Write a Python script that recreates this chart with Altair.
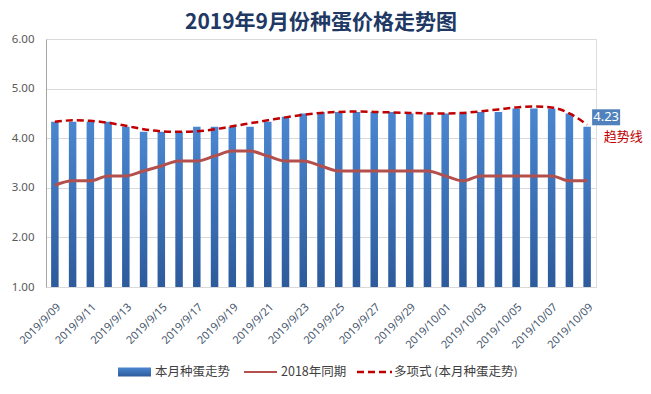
import altair as alt
import pandas as pd

dates = (["2019/9/%02d" % d for d in range(9, 31)] +
         ["2019/10/%02d" % d for d in range(1, 10)])
price_2019 = [4.33, 4.33, 4.33, 4.33, 4.23, 4.13, 4.13, 4.13, 4.23, 4.23,
              4.23, 4.23, 4.33, 4.43, 4.50, 4.53, 4.53, 4.53, 4.53, 4.53,
              4.50, 4.50, 4.50, 4.50, 4.53, 4.53, 4.60, 4.60, 4.60, 4.50, 4.23]
price_2018 = [3.05, 3.14, 3.14, 3.24, 3.24, 3.34, 3.44, 3.54, 3.54, 3.64,
              3.74, 3.74, 3.64, 3.54, 3.54, 3.44, 3.34, 3.34, 3.34, 3.34,
              3.34, 3.34, 3.24, 3.14, 3.24, 3.24, 3.24, 3.24, 3.24, 3.14, 3.14]
trend = [4.33, 4.36, 4.35, 4.31, 4.25, 4.18, 4.14, 4.13, 4.14, 4.18,
         4.24, 4.30, 4.36, 4.42, 4.47, 4.51, 4.53, 4.54, 4.53, 4.52,
         4.51, 4.50, 4.50, 4.51, 4.54, 4.58, 4.62, 4.64, 4.62, 4.50, 4.27]
series_names = ["本月种蛋走势", "2018年同期", "多项式 (本月种蛋走势)"]
trend_label = "趋势线"
title_text = "2019年9月份种蛋价格走势图"
y_ticks = [1.0, 1.5, 2.0, 2.5, 3.0, 3.5, 4.0, 4.5, 5.0, 5.5, 6.0]
y_base = 1.0

df = pd.DataFrame({"date": dates, "p2019": price_2019,
                   "p2018": price_2018, "trend": trend})
last = df.tail(1).copy()
last["tl"] = trend_label

CJK = "Noto Sans CJK SC"
LAT = "Noto Sans"
bar_grad = alt.Gradient(gradient="linear", x1=0, x2=0, y1=0, y2=1,
                        stops=[alt.GradientStop(color="#4A86D0", offset=0),
                               alt.GradientStop(color="#2D5B9C", offset=1)])

xenc = alt.X("date:O", sort=dates, title=None,
             scale=alt.Scale(paddingInner=0, paddingOuter=0),
             axis=alt.Axis(values=dates[::2], labelAngle=315, labelFontSize=11,
                           labelFont=LAT, labelColor="#44546A", ticks=False,
                           domainColor="#D9D9D9", labelPadding=14,
                           labelOverlap=False))
yscale = alt.Scale(domain=[1, 6], nice=False, zero=False)
yaxis = alt.Axis(values=y_ticks, format=".2f", labelFontSize=11.5, labelFont=LAT,
                 labelColor="#595959", ticks=False, domainColor="#A6A6A6",
                 gridColor="#D9D9D9", labelPadding=12, title=None)

base = alt.Chart(df)
bars = base.mark_bar(width=7.5, color=bar_grad).encode(
    x=xenc, y=alt.Y("p2019:Q", scale=yscale, axis=yaxis), y2=alt.datum(y_base))
l2018 = base.mark_line(color="#B3504D", strokeWidth=3, interpolate="monotone").encode(
    x=alt.X("date:O", sort=dates), y=alt.Y("p2018:Q"))
ltrend = base.mark_line(color="#C00000", strokeWidth=2.5, strokeDash=[7, 4],
                        interpolate="monotone").encode(
    x=alt.X("date:O", sort=dates), y=alt.Y("trend:Q"))

lab_base = alt.Chart(last)
box = lab_base.mark_point(shape="M-1,-0.571L1,-0.571L1,0.571L-1,0.571Z",
                          filled=True, opacity=1, size=784, color="#4F81BD",
                          xOffset=19, yOffset=-9.5).encode(
    x=alt.X("date:O", sort=dates), y=alt.Y("p2019:Q"))
boxtxt = lab_base.mark_text(color="white", fontSize=13, font=LAT, dx=19, dy=-9.5).encode(
    x=alt.X("date:O", sort=dates), y=alt.Y("p2019:Q"),
    text=alt.Text("p2019:Q", format=".2f"))
tltxt = lab_base.mark_text(color="#C00000", fontSize=13, font=CJK, dx=36, dy=10.5).encode(
    x=alt.X("date:O", sort=dates), y=alt.Y("p2019:Q"), text="tl:N")

leg_y = 333
lg1 = alt.Chart(pd.DataFrame({"n": [series_names[0]]})).mark_rect(color=bar_grad).encode(
    x=alt.value(72), x2=alt.value(105), y=alt.value(leg_y - 4.5), y2=alt.value(leg_y + 4.5))
lg2 = alt.Chart(pd.DataFrame({"n": [series_names[1]]})).mark_rule(
    color="#B3504D", strokeWidth=2).encode(
    x=alt.value(198), x2=alt.value(231), y=alt.value(leg_y))
lg3 = alt.Chart(pd.DataFrame({"n": [series_names[2]]})).mark_rule(
    color="#C00000", strokeWidth=2.5, strokeDash=[7, 4]).encode(
    x=alt.value(311), x2=alt.value(346), y=alt.value(leg_y))
txt_x = [109, 235, 348]
leg_txts = [alt.Chart(pd.DataFrame({"n": [series_names[i]]})).mark_text(
    align="left", baseline="middle", fontSize=12.5, font=CJK, color="#404040").encode(
    x=alt.value(txt_x[i]), y=alt.value(leg_y), text="n:N") for i in range(3)]

chart = alt.layer(bars, l2018, ltrend, box, boxtxt, tltxt, lg1, lg2, lg3, *leg_txts).properties(
    width=550, height=248,
    title=alt.TitleParams(title_text, fontSize=21, font=CJK, fontWeight="bold",
                          color="#203864", anchor="middle", frame="group", offset=0),
    autosize=alt.AutoSizeParams(type="none"),
    padding={"left": 38, "top": 31, "right": 47, "bottom": 90},
).configure_view(stroke=None).configure(background="white")

chart.save("out.html", embed_options={"renderer": "svg", "actions": False})
